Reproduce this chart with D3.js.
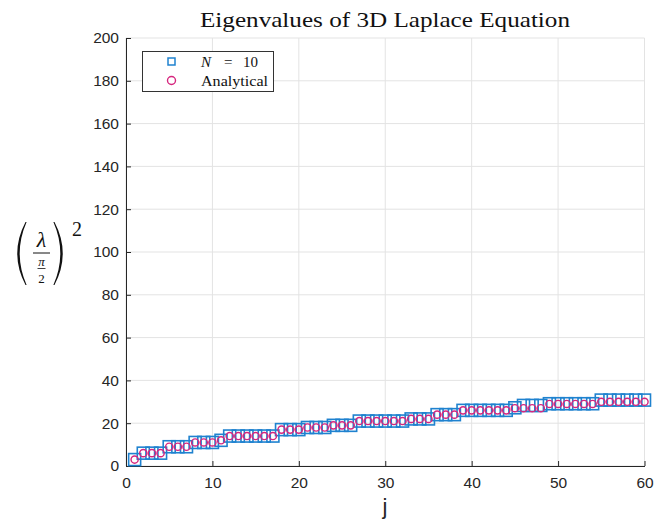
<!DOCTYPE html>
<html>
<head>
<meta charset="utf-8">
<script src="https://cdn.jsdelivr.net/npm/d3@7"></script>
<style>
  body { margin: 0; background: #fff; }
  svg { display: block; }
</style>
</head>
<body>
<div id="chart"></div>
<script>
// data
var analytical = [3, 6, 6, 6, 9, 9, 9, 11, 11, 11, 12, 14, 14, 14, 14, 14, 14, 17, 17, 17,
    18, 18, 18, 19, 19, 19, 21, 21, 21, 21, 21, 21, 22, 22, 22, 24, 24, 24, 26, 26,
    26, 26, 26, 26, 27, 27, 27, 27, 29, 29, 29, 29, 29, 29, 30, 30, 30, 30, 30, 30];
var numericN10 = [3, 6, 6, 6, 9, 9, 9, 11, 11, 11, 12, 14, 14, 14, 14, 14, 14, 17, 17, 17,
    18, 18, 18, 19, 19, 19, 21, 21, 21, 21, 21, 21, 22, 22, 22, 24, 24, 24, 26, 26,
    26, 26, 26, 26, 27.2, 28.3, 28.3, 28.3, 29.1, 29.1, 29.1, 29.1, 29.1, 29.1, 30.8, 30.8, 30.8, 30.8, 30.8, 30.8];
var xTicks = [0, 10, 20, 30, 40, 50, 60];
var yTicks = [0, 20, 40, 60, 80, 100, 120, 140, 160, 180, 200];

var width = 654, height = 522;
var margin = {top: 38, right: 9.5, bottom: 56, left: 126};

var svg = d3.select("#chart").append("svg")
    .attr("width", width)
    .attr("height", height);

var x = d3.scaleLinear().domain([0, 60]).range([margin.left, width - margin.right]);
var y = d3.scaleLinear().domain([0, 200]).range([height - margin.bottom, margin.top]);

var gridColor = "#e3e3e3";
var axisColor = "#262626";

// grid
svg.append("g").selectAll("line")
    .data(xTicks)
    .join("line")
    .attr("x1", d => x(d)).attr("x2", d => x(d))
    .attr("y1", y(0)).attr("y2", y(200))
    .attr("stroke", gridColor);
svg.append("g").selectAll("line")
    .data(yTicks)
    .join("line")
    .attr("x1", x(0)).attr("x2", x(60))
    .attr("y1", d => y(d)).attr("y2", d => y(d))
    .attr("stroke", gridColor);

// axes (ticks pointing inward)
var xAxis = svg.append("g")
    .attr("transform", "translate(0," + y(0) + ")")
    .call(d3.axisBottom(x).tickValues(xTicks).tickSizeInner(-5).tickSizeOuter(0).tickPadding(11));
var yAxis = svg.append("g")
    .attr("transform", "translate(" + x(0) + ",0)")
    .call(d3.axisLeft(y).tickValues(yTicks).tickSizeInner(-5).tickSizeOuter(0).tickPadding(7));

[xAxis, yAxis].forEach(function (g) {
    g.select(".domain").attr("stroke", axisColor).attr("stroke-width", 1);
    g.selectAll(".tick line").attr("stroke", axisColor);
    g.selectAll("text")
        .attr("fill", axisColor)
        .style("font-family", "Liberation Sans, Arial, sans-serif")
        .style("font-size", "15.5px");
});

// markers
var blue = "#1f82cf";
var magenta = "#d6267e";
var sq = 12;

svg.append("g").selectAll("rect")
    .data(numericN10)
    .join("rect")
    .attr("x", (d, i) => x(i + 1) - sq / 2)
    .attr("y", d => y(d) - sq / 2)
    .attr("width", sq)
    .attr("height", sq)
    .attr("fill", "none")
    .attr("stroke", blue)
    .attr("stroke-width", 1.6);

svg.append("g").selectAll("circle")
    .data(analytical)
    .join("circle")
    .attr("cx", (d, i) => x(i + 1))
    .attr("cy", d => y(d))
    .attr("r", 3.6)
    .attr("fill", "none")
    .attr("stroke", magenta)
    .attr("stroke-width", 1.4);

// title
var serif = "Liberation Serif, DejaVu Serif, serif";
svg.append("text")
    .attr("x", 200).attr("y", 26.5)
    .attr("textLength", 370)
    .attr("lengthAdjust", "spacingAndGlyphs")
    .style("font-family", serif)
    .style("font-size", "22px")
    .attr("fill", "#111")
    .text("Eigenvalues of 3D Laplace Equation");

// x label
svg.append("text")
    .attr("x", 385).attr("y", 514)
    .attr("text-anchor", "middle")
    .style("font-family", "Liberation Sans, Arial, sans-serif")
    .style("font-size", "22px")
    .attr("fill", axisColor)
    .text("j");

// y label: (lambda / (pi/2))^2
var yl = svg.append("g").attr("fill", "#111");
yl.append("path")
    .attr("d", "M25.5,222 Q9,253.5 25.5,285 L26.6,285 Q12.8,253.5 26.6,222 Z");
yl.append("path")
    .attr("d", "M54.5,222 Q71,253.5 54.5,285 L53.4,285 Q67.2,253.5 53.4,222 Z");
yl.append("text")
    .attr("x", 41.5).attr("y", 247)
    .attr("text-anchor", "middle")
    .style("font-family", serif)
    .style("font-style", "italic")
    .style("font-size", "22px")
    .text("λ");
yl.append("line")
    .attr("x1", 33).attr("x2", 50).attr("y1", 253).attr("y2", 253)
    .attr("stroke", "#111").attr("stroke-width", 1);
yl.append("text")
    .attr("x", 41.5).attr("y", 265.5)
    .attr("text-anchor", "middle")
    .style("font-family", serif)
    .style("font-style", "italic")
    .style("font-size", "13px")
    .text("π");
yl.append("line")
    .attr("x1", 37.5).attr("x2", 45.5).attr("y1", 268.5).attr("y2", 268.5)
    .attr("stroke", "#111").attr("stroke-width", 0.8);
yl.append("text")
    .attr("x", 41.5).attr("y", 282.5)
    .attr("text-anchor", "middle")
    .style("font-family", serif)
    .style("font-size", "13px")
    .text("2");
yl.append("text")
    .attr("x", 72).attr("y", 236)
    .style("font-family", serif)
    .style("font-size", "20px")
    .text("2");

// legend
var lg = svg.append("g");
lg.append("rect")
    .attr("x", 142.5).attr("y", 51.5)
    .attr("width", 131).attr("height", 40)
    .attr("fill", "#fff")
    .attr("stroke", "#333")
    .attr("stroke-width", 1);
lg.append("rect")
    .attr("x", 168).attr("y", 58)
    .attr("width", 7).attr("height", 7)
    .attr("fill", "none").attr("stroke", blue).attr("stroke-width", 1.5);
lg.append("circle")
    .attr("cx", 171.5).attr("cy", 80.5).attr("r", 4)
    .attr("fill", "none").attr("stroke", magenta).attr("stroke-width", 1.4);
var legendFont = function (t) {
    return t.style("font-family", serif).style("font-size", "15px").attr("fill", "#111");
};
legendFont(lg.append("text").attr("x", 201).attr("y", 66.5).style("font-style", "italic")).text("N");
legendFont(lg.append("text").attr("x", 224).attr("y", 66.5)).text("=");
legendFont(lg.append("text").attr("x", 243).attr("y", 66.5)).text("10");
legendFont(lg.append("text").attr("x", 201).attr("y", 85.5)
    .attr("textLength", 67).attr("lengthAdjust", "spacingAndGlyphs")).text("Analytical");
</script>
</body>
</html>
